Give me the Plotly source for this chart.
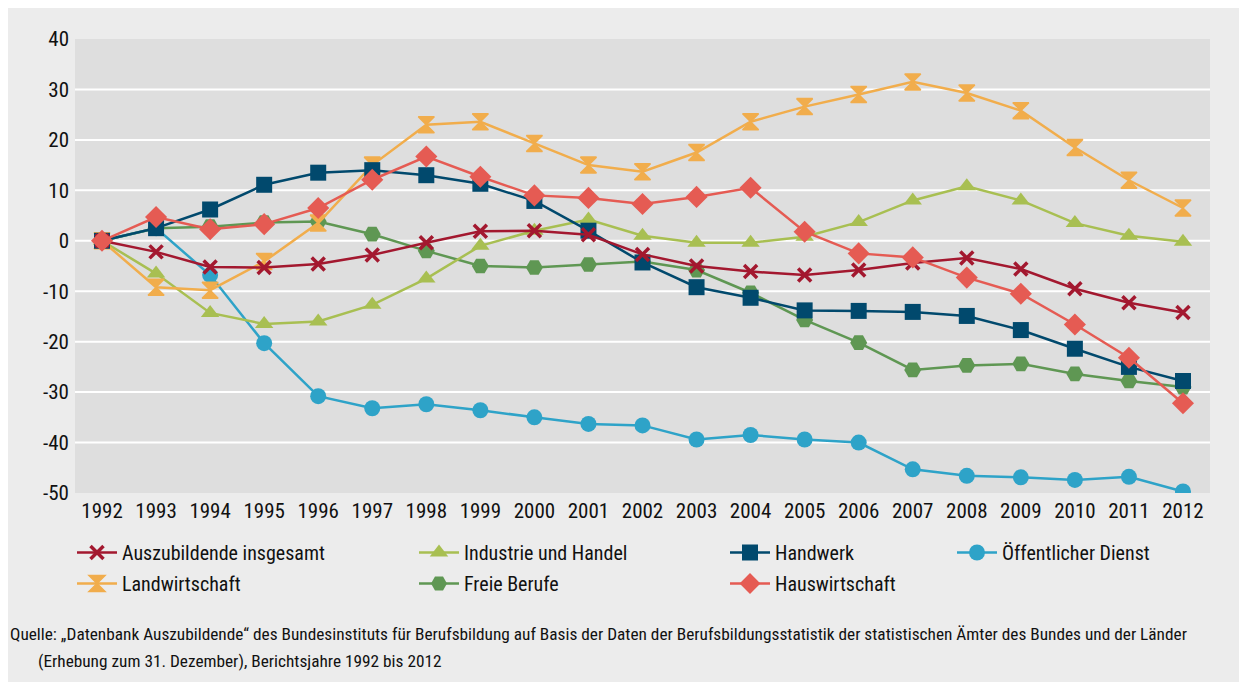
import plotly.graph_objects as go

years = [str(y) for y in range(1992, 2013)]

auszubildende = [0, -2.2, -5.2, -5.3, -4.6, -2.8, -0.4, 1.9, 2.0, 1.2, -2.7,
                 -5.0, -6.1, -6.8, -5.8, -4.4, -3.4, -5.6, -9.5, -12.3, -14.2]
industrie = [0, -6.5, -14.3, -16.5, -16.0, -12.7, -7.5, -1.0, 2.0, 4.2, 1.0,
             -0.4, -0.4, 0.8, 3.7, 8.0, 10.8, 8.0, 3.5, 1.0, -0.2]
handwerk = [0, 2.5, 6.2, 11.1, 13.5, 14.0, 13.0, 11.3, 7.9, 2.0, -4.3,
            -9.2, -11.3, -13.8, -13.9, -14.1, -14.9, -17.7, -21.4, -25.0, -27.8]
oeffentlich = [0, 2.5, -6.8, -20.3, -30.8, -33.2, -32.4, -33.6, -35.0, -36.3, -36.6,
               -39.4, -38.5, -39.4, -40.0, -45.3, -46.6, -46.9, -47.4, -46.8, -49.7]
landwirtschaft = [0, -9.2, -9.8, -4.1, 3.5, 15.0, 23.0, 23.6, 19.3, 15.0, 13.7,
                  17.5, 23.6, 26.6, 29.0, 31.5, 29.3, 25.8, 18.5, 12.0, 6.5]
freie_berufe = [0, 2.5, 2.8, 3.6, 3.8, 1.3, -2.0, -5.0, -5.3, -4.7, -4.1,
                -5.8, -10.3, -15.7, -20.2, -25.6, -24.7, -24.4, -26.4, -27.8, -29.0]
hauswirtschaft = [0, 4.7, 2.3, 3.3, 6.5, 12.1, 16.7, 12.7, 9.0, 8.5, 7.3,
                  8.7, 10.5, 1.8, -2.5, -3.3, -7.3, -10.5, -16.6, -23.2, -32.2]

y_ticks = [40, 30, 20, 10, 0, -10, -20, -30, -40, -50]

# name, values, colour, symbol, size, legend
series = [
    ("Auszubildende insgesamt", auszubildende, "#a3182f", "x-thin", 13, "legend"),
    ("Landwirtschaft", landwirtschaft, "#f1ad4c", "hourglass", 16, "legend"),
    ("Industrie und Handel", industrie, "#a8bf52", "triangle-up", 16, "legend2"),
    ("Freie Berufe", freie_berufe, "#5f9753", "hexagon2", 17, "legend2"),
    ("Handwerk", handwerk, "#01496d", "square", 16, "legend3"),
    ("Hauswirtschaft", hauswirtschaft, "#e55b53", "diamond", 17, "legend3"),
    ("Öffentlicher Dienst", oeffentlich, "#2ea3c8", "circle", 16, "legend4"),
]

draw_order = ["Öffentlicher Dienst", "Freie Berufe", "Industrie und Handel", "Landwirtschaft",
              "Handwerk", "Auszubildende insgesamt", "Hauswirtschaft"]

fig = go.Figure()
by_name = {s[0]: s for s in series}
names = [s[0] for s in series]
for name in draw_order:
    _, vals, color, symbol, size, leg = by_name[name]
    if symbol == "x-thin":
        marker = dict(symbol=symbol, size=size, line=dict(color=color, width=3.5), color=color)
    elif symbol == "hourglass":
        marker = dict(symbol=symbol, size=size, color=color, line=dict(color=color, width=1.5))
    else:
        marker = dict(symbol=symbol, size=size, color=color, line=dict(width=0))
    fig.add_trace(go.Scatter(x=years, y=vals, name=name, mode="lines+markers",
                             line=dict(color=color, width=2.5), marker=marker,
                             legend=leg, legendgroup=name, legendrank=names.index(name)))

# the page has an 8px body margin, so the figure is sized to fill the rest
W, H = 1239, 674
ml, mr, mt, mb = 67, 37, 31, 189
pw, ph = W - ml - mr, H - mt - mb
def px_x(p): return (p - ml) / pw
def px_y(p): return (H - mb - p) / ph

for v in y_ticks[1:-1]:
    fig.add_shape(type="line", xref="paper", yref="y", layer="below",
                  x0=0, x1=1, y0=v, y1=v, line=dict(color="white", width=2))

font = "Liberation Sans Narrow, Roboto Condensed, Liberation Sans, Arial"

leg_common = dict(orientation="v", yanchor="top", xanchor="left", bgcolor="rgba(0,0,0,0)",
                  font=dict(family=font, size=20, color="#111111"), tracegroupgap=2,
                  itemwidth=40, y=px_y(525))

fig.update_layout(
    width=W, height=H,
    margin=dict(l=ml, r=mr, t=mt, b=mb),
    paper_bgcolor="#ececec",
    plot_bgcolor="#dedede",
    font=dict(family=font, size=20, color="#111111"),
    showlegend=True,
    legend=dict(leg_common, x=px_x(64)),
    legend2=dict(leg_common, x=px_x(406)),
    legend3=dict(leg_common, x=px_x(717)),
    legend4=dict(leg_common, x=px_x(944)),
    xaxis=dict(type="category", range=[-0.5, 20.5], showgrid=False, zeroline=False,
               ticks="", tickfont=dict(size=21), ticklabelstandoff=3),
    yaxis=dict(range=[-50, 40], showgrid=False, zeroline=False, tickvals=y_ticks,
               ticktext=[str(v) for v in y_ticks], ticks="", tickfont=dict(size=21),
               ticklabelstandoff=5),
    annotations=[
        dict(text="Quelle: „Datenbank Auszubildende“ des Bundesinstituts für Berufsbildung auf Basis der Daten der Berufsbildungsstatistik der statistischen Ämter des Bundes und der Länder",
             xref="paper", yref="paper", x=px_x(0), y=px_y(626), xanchor="left", yanchor="middle",
             showarrow=False, font=dict(size=17.3)),
        dict(text="(Erhebung zum 31. Dezember), Berichtsjahre 1992 bis 2012",
             xref="paper", yref="paper", x=px_x(28), y=px_y(653), xanchor="left", yanchor="middle",
             showarrow=False, font=dict(size=17.3)),
    ],
)

fig.write_html("out.html")
